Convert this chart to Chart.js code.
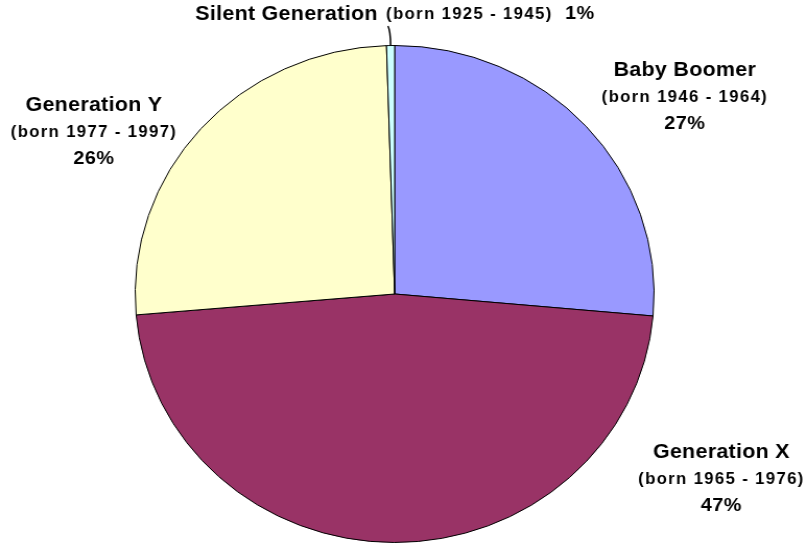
<!DOCTYPE html>
<html>
<head>
<meta charset="utf-8">
<script src="https://cdn.jsdelivr.net/npm/chart.js@4"></script>
<style>
  html, body { margin: 0; padding: 0; background: #fff; overflow: hidden; }
  #wrap { width: 774px; height: 544px; transform: scaleX(1.044); transform-origin: 0 0; }
</style>
</head>
<body>
<div id="wrap"><canvas id="pieChart" width="774" height="544" style="width:774px;height:544px"></canvas></div>
<script>
"use strict";

// data
const generations = ["Baby Boomer", "Generation X", "Generation Y", "Silent Generation"];
const bornYears = ["(born 1946 - 1964)", "(born 1965 - 1976)", "(born 1977 - 1997)", "(born 1925 - 1945)"];
const shares = [26.41, 47.25, 25.84, 0.5];
const shareLabels = ["27%", "47%", "26%", "1%"];
const sliceColors = ["#9999FF", "#993366", "#FFFFCC", "#CCFFFF"];

const nameFont = "bold 20.5px 'Liberation Sans', Arial, sans-serif";
const bornFont = "bold 16px 'Liberation Sans', Arial, sans-serif";
const pctFont = "bold 19px 'Liberation Sans', Arial, sans-serif";

// label anchors (center of text block), in unstretched canvas px
const labelPos = [
    { x: 656, y: 70 },
    { x: 691, y: 452 },
    { x: 90, y: 105 }
];

const labelPlugin = {
    id: "genLabels",
    afterDatasetsDraw(chart) {
        const ctx = chart.ctx;
        ctx.save();
        ctx.fillStyle = "#000";
        ctx.textAlign = "center";
        ctx.textBaseline = "middle";

        for (let i = 0; i < 3; i++) {
            const p = labelPos[i];
            ctx.font = nameFont;
            ctx.letterSpacing = "0.3px";
            ctx.fillText(generations[i], p.x, p.y);
            ctx.font = bornFont;
            ctx.letterSpacing = "1.3px";
            ctx.fillText(bornYears[i], p.x, p.y + 28);
            ctx.font = pctFont;
            ctx.letterSpacing = "0.5px";
            ctx.fillText(shareLabels[i], p.x, p.y + 54);
        }

        // silent generation on one line at the top
        ctx.textAlign = "left";
        let x = 187;
        const y = 14;
        ctx.font = nameFont;
        ctx.letterSpacing = "0.3px";
        ctx.fillText(generations[3], x, y);
        x += ctx.measureText(generations[3]).width + 8;
        ctx.font = bornFont;
        ctx.letterSpacing = "1.3px";
        ctx.fillText(bornYears[3], x, y + 1);
        x += ctx.measureText(bornYears[3]).width + 12;
        ctx.font = pctFont;
        ctx.letterSpacing = "0.5px";
        ctx.fillText(shareLabels[3], x, y);

        // leader line from label to the thin slice
        const arc = chart.getDatasetMeta(0).data[3];
        const mid = (arc.startAngle + arc.endAngle) / 2;
        const ex = arc.x + Math.cos(mid) * arc.outerRadius;
        const ey = arc.y + Math.sin(mid) * arc.outerRadius;
        ctx.strokeStyle = "#000";
        ctx.lineWidth = 1.5;
        ctx.beginPath();
        ctx.moveTo(ex - 2.5, 26);
        ctx.quadraticCurveTo(ex, 31, ex, ey);
        ctx.stroke();
        ctx.restore();
    }
};

new Chart(document.getElementById("pieChart"), {
    type: "pie",
    data: {
        labels: generations,
        datasets: [{
            data: shares,
            backgroundColor: sliceColors,
            borderColor: "#000",
            borderWidth: 1
        }]
    },
    options: {
        responsive: false,
        animation: false,
        events: [],
        layout: {
            padding: { top: 45, bottom: 1, left: 129, right: 147 }
        },
        plugins: {
            legend: { display: false },
            tooltip: { enabled: false }
        }
    },
    plugins: [labelPlugin]
});
</script>
</body>
</html>
